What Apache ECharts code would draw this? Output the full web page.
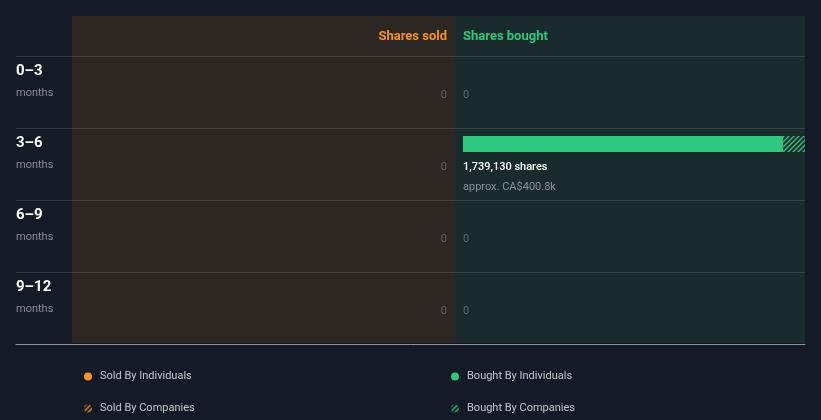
<!DOCTYPE html>
<html><head><meta charset="utf-8">
<script src="https://cdn.jsdelivr.net/npm/echarts@6/dist/echarts.min.js"></script>
<style>html,body{margin:0;padding:0;background:#151b26;}#c{width:821px;height:420px;}</style>
</head><body><div id="c"></div>
<script>
const categories = ['0–3', '3–6', '6–9', '9–12'];
const rangeUnit = 'months';
const soldByIndividuals = [0, 0, 0, 0];
const soldByCompanies = [0, 0, 0, 0];
const soldValueCAD = [0, 0, 0, 0];
const boughtByIndividuals = [0, 1627000, 0, 0];
const boughtByCompanies = [0, 112130, 0, 0];
const boughtValueCAD = [0, 400800, 0, 0];

const ORANGE = '#f7931e', GREEN = '#2ec97f';
function hatch(color) {
  const c = document.createElement('canvas'); c.width = 5; c.height = 5;
  const g = c.getContext('2d'); g.strokeStyle = color; g.lineWidth = 1.3;
  g.beginPath();
  g.moveTo(0, 5); g.lineTo(5, 0);
  g.moveTo(-1, 1); g.lineTo(1, -1);
  g.moveTo(4, 6); g.lineTo(6, 4);
  g.stroke();
  return { image: c, repeat: 'repeat' };
}
const orangeHatch = hatch(ORANGE), greenHatch = hatch(GREEN);

const soldTotals = soldByIndividuals.map((v, i) => v + soldByCompanies[i]);
const boughtTotals = boughtByIndividuals.map((v, i) => v + boughtByCompanies[i]);
const scaleMax = Math.max(...soldTotals, ...boughtTotals);

function fmtShares(v) { return v.toLocaleString('en-US') + ' shares'; }
function fmtCAD(v) {
  if (v >= 1e6) return 'CA$' + (v / 1e6).toFixed(1) + 'm';
  return 'CA$' + (v / 1e3).toFixed(1) + 'k';
}

function barRender(fill) {
  return function (params, api) {
    const s = api.value(0), e = api.value(1), c = api.value(2);
    if (e - s <= 0) return;
    const p0 = api.coord([s, c]), p1 = api.coord([e, c]);
    const band = api.size([0, 1])[1];
    const top = p0[1] - band / 2 + 8;
    return { type: 'rect', shape: { x: Math.min(p0[0], p1[0]), y: top, width: Math.abs(p1[0] - p0[0]), height: 16 }, style: { fill: fill } };
  };
}
function labelRender(align) {
  return function (params, api) {
    const v = api.value(0), money = api.value(1), c = api.value(2);
    const p = api.coord([0, c]);
    if (v <= 0) {
      return { type: 'text', x: p[0], y: p[1] + 3, style: { text: '0', fill: '#5f666a', font: '11px Roboto', align: align, verticalAlign: 'middle' } };
    }
    return { type: 'group', children: [
      { type: 'text', x: p[0], y: p[1] + 3.5, style: { text: fmtShares(v), fill: '#ffffff', font: '500 11px Roboto', align: align, verticalAlign: 'middle' } },
      { type: 'text', x: p[0], y: p[1] + 23.5, style: { text: 'approx. ' + fmtCAD(money), fill: '#8a9296', font: '11px Roboto', align: align, verticalAlign: 'middle' } }
    ] };
  };
}

const chart = echarts.init(document.getElementById('c'));
chart.setOption({
  backgroundColor: '#151b26',
  animation: false,
  graphic: [
    { type: 'rect', z: -10, shape: { x: 72, y: 16, width: 383, height: 327 }, style: { fill: '#2c2722' } },
    { type: 'rect', z: -10, shape: { x: 455, y: 16, width: 350, height: 327 }, style: { fill: '#1a2b2e' } }
  ],
  title: [
    { text: 'Shares sold', right: 369, top: 25, textStyle: { color: ORANGE, fontSize: 13, fontWeight: 'bold', fontFamily: 'Roboto' } },
    { text: 'Shares bought', left: 458, top: 25, textStyle: { color: GREEN, fontSize: 13, fontWeight: 'bold', fontFamily: 'Roboto' } }
  ],
  legend: [
    { orient: 'vertical', left: 79, top: 366, itemWidth: 14, itemHeight: 8, itemGap: 21, selectedMode: false,
      textStyle: { color: '#c5c8cc', fontSize: 11, fontFamily: 'Roboto' },
      data: [{ name: 'Sold By Individuals', icon: 'circle', itemStyle: { color: ORANGE } },
             { name: 'Sold By Companies', icon: 'circle', itemStyle: { color: orangeHatch } }] },
    { orient: 'vertical', left: 446, top: 366, itemWidth: 14, itemHeight: 8, itemGap: 21, selectedMode: false,
      textStyle: { color: '#c5c8cc', fontSize: 11, fontFamily: 'Roboto' },
      data: [{ name: 'Bought By Individuals', icon: 'circle', itemStyle: { color: GREEN } },
             { name: 'Bought By Companies', icon: 'circle', itemStyle: { color: greenHatch } }] }
  ],
  grid: [
    { left: 16, right: 16, top: 56, bottom: 76 },
    { left: 72, right: 374, top: 56, bottom: 76 },
    { left: 463, right: 16, top: 56, bottom: 76 }
  ],
  xAxis: [
    { gridIndex: 0, type: 'value', min: 0, max: 1, axisLine: { show: true, lineStyle: { color: '#8e9398', width: 1 } },
      axisTick: { show: false }, axisLabel: { show: false }, splitLine: { show: false } },
    { gridIndex: 1, type: 'value', min: 0, max: scaleMax, inverse: true, show: false },
    { gridIndex: 2, type: 'value', min: 0, max: scaleMax, show: false }
  ],
  yAxis: [
    { gridIndex: 0, type: 'category', inverse: true, data: categories,
      axisLine: { show: false }, axisTick: { show: false },
      splitLine: { show: true, lineStyle: { color: 'rgba(255,255,255,0.12)', width: 1 } },
      axisLabel: { inside: true, margin: 0, align: 'left',
        formatter: v => '{a|' + v + '}\n{b|' + rangeUnit + '}\n{c| }',
        rich: { a: { color: '#ffffff', fontSize: 15, fontWeight: 'bold', fontFamily: 'Roboto', lineHeight: 22 },
                b: { color: '#8b9096', fontSize: 11, fontFamily: 'Roboto', lineHeight: 22 },
                c: { fontSize: 11, lineHeight: 20 } } } },
    { gridIndex: 1, type: 'category', inverse: true, data: categories, show: false },
    { gridIndex: 2, type: 'category', inverse: true, data: categories, show: false }
  ],
  series: [
    { name: 'Sold By Individuals', type: 'custom', xAxisIndex: 1, yAxisIndex: 1, itemStyle: { color: ORANGE },
      encode: { x: [0, 1], y: 2 }, renderItem: barRender(ORANGE),
      data: soldByIndividuals.map((v, i) => [0, v, i]) },
    { name: 'Sold By Companies', type: 'custom', xAxisIndex: 1, yAxisIndex: 1, itemStyle: { color: orangeHatch },
      encode: { x: [0, 1], y: 2 }, renderItem: barRender(orangeHatch),
      data: soldByCompanies.map((v, i) => [soldByIndividuals[i], soldByIndividuals[i] + v, i]) },
    { name: 'Bought By Individuals', type: 'custom', xAxisIndex: 2, yAxisIndex: 2, itemStyle: { color: GREEN },
      encode: { x: [0, 1], y: 2 }, renderItem: barRender(GREEN),
      data: boughtByIndividuals.map((v, i) => [0, v, i]) },
    { name: 'Bought By Companies', type: 'custom', xAxisIndex: 2, yAxisIndex: 2, itemStyle: { color: greenHatch },
      encode: { x: [0, 1], y: 2 }, renderItem: barRender(greenHatch),
      data: boughtByCompanies.map((v, i) => [boughtByIndividuals[i], boughtByIndividuals[i] + v, i]) },
    { name: 'soldLabels', type: 'custom', xAxisIndex: 1, yAxisIndex: 1, encode: { x: 0, y: 2 }, renderItem: labelRender('right'),
      data: soldTotals.map((v, i) => [v, soldValueCAD[i], i]) },
    { name: 'boughtLabels', type: 'custom', xAxisIndex: 2, yAxisIndex: 2, encode: { x: 0, y: 2 }, renderItem: labelRender('left'),
      data: boughtTotals.map((v, i) => [v, boughtValueCAD[i], i]) }
  ]
});
</script></body></html>
